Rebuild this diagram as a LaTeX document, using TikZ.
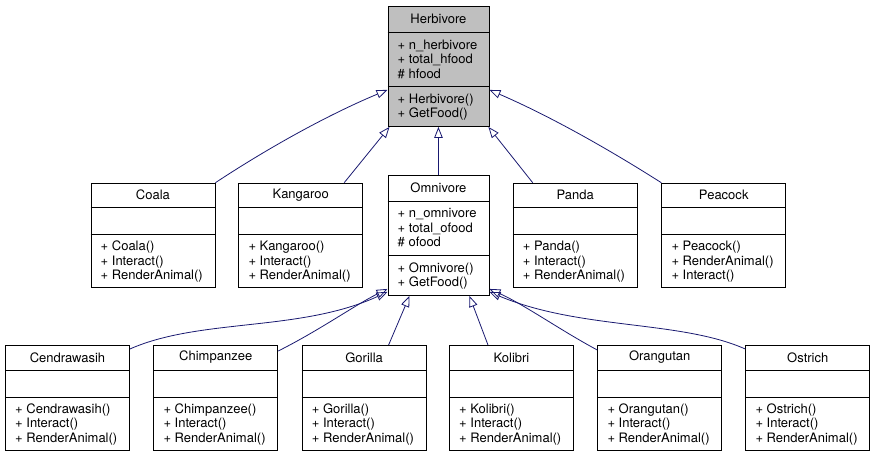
\documentclass[tikz,border=0pt]{standalone}
\usepackage{fontspec}
\setmainfont{TeX Gyre Heros}
\usetikzlibrary{positioning,arrows.meta,calc}
\definecolor{edgeblue}{HTML}{191970}
\definecolor{basegray}{HTML}{BFBFBF}
\tikzset{
  classbox/.style={draw=black, line width=0.9pt, fill=white, inner sep=0pt, anchor=north west},
  sepline/.style={draw=black, line width=0.9pt},
  titletext/.style={inner sep=0pt, font=\fontsize{13}{14.5}\selectfont},
  membertext/.style={inner sep=0pt, anchor=west, align=left, font=\fontsize{13}{14.5}\selectfont},
  inherit/.style={draw=edgeblue, line width=0.8pt, -{Triangle[open, length=11pt, width=8.5pt]}}
}
% leaf class: name, x, y, title, operations
\newcommand{\leafclass}[5]{%
  \node[classbox, minimum width=124pt, minimum height=104.5pt] (#1) at (#2,#3) {};
  \draw[sepline] ([yshift=-25pt]#1.north west) -- ([yshift=-25pt]#1.north east);
  \draw[sepline] ([yshift=-52pt]#1.north west) -- ([yshift=-52pt]#1.north east);
  \node[titletext] (#1-title) at ([yshift=-12.5pt]#1.north) {#4};
  \node[membertext] (#1-ops) at ([xshift=10pt,yshift=26.25pt]#1.south west) {#5};
}
% base class: name, x, y, fill, title, attributes, operations
\newcommand{\baseclass}[7]{%
  \node[classbox, fill=#4, minimum width=101pt, minimum height=120pt] (#1) at (#2,#3) {};
  \draw[sepline] ([yshift=-26pt]#1.north west) -- ([yshift=-26pt]#1.north east);
  \draw[sepline] ([yshift=-80pt]#1.north west) -- ([yshift=-80pt]#1.north east);
  \node[titletext] (#1-title) at ([yshift=-13pt]#1.north) {#5};
  \node[membertext] (#1-attrs) at ([xshift=10pt,yshift=-53pt]#1.north west) {#6};
  \node[membertext] (#1-ops) at ([xshift=10pt,yshift=20pt]#1.south west) {#7};
}
\begin{document}
\begin{tikzpicture}[x=1pt, y=-1pt]
  \useasboundingbox (0,0) rectangle (875,456);
  % base classes
  \baseclass{herbivore}{387.5}{6}{basegray}{Herbivore}%
    {+ n\_herbivore\\+ total\_hfood\\\# hfood}{+ Herbivore()\\+ GetFood()}
  \baseclass{omnivore}{387.5}{175}{white}{Omnivore}%
    {+ n\_omnivore\\+ total\_ofood\\\# ofood}{+ Omnivore()\\+ GetFood()}
  % middle row
  \leafclass{coala}{90.5}{182.7}{Coala}{+ Coala()\\+ Interact()\\+ RenderAnimal()}
  \leafclass{kangaroo}{238.3}{182.7}{Kangaroo}{+ Kangaroo()\\+ Interact()\\+ RenderAnimal()}
  \leafclass{panda}{512.7}{182.7}{Panda}{+ Panda()\\+ Interact()\\+ RenderAnimal()}
  \leafclass{peacock}{661.3}{182.7}{Peacock}{+ Peacock()\\+ RenderAnimal()\\+ Interact()}
  % bottom row
  \leafclass{cendrawasih}{5}{345}{Cendrawasih}{+ Cendrawasih()\\+ Interact()\\+ RenderAnimal()}
  \leafclass{chimpanzee}{153.3}{345}{Chimpanzee}{+ Chimpanzee()\\+ Interact()\\+ RenderAnimal()}
  \leafclass{gorilla}{301.7}{345}{Gorilla}{+ Gorilla()\\+ Interact()\\+ RenderAnimal()}
  \leafclass{kolibri}{449}{345}{Kolibri}{+ Kolibri()\\+ Interact()\\+ RenderAnimal()}
  \leafclass{orangutan}{597.3}{345}{Orangutan}{+ Orangutan()\\+ Interact()\\+ RenderAnimal()}
  \leafclass{ostrich}{745.3}{345}{Ostrich}{+ Ostrich()\\+ Interact()\\+ RenderAnimal()}
  %
  % inheritance to Herbivore
  \draw[inherit] (coala.north east) .. controls (265,150) and (325,116) .. ([yshift=37pt]herbivore.south west);
  \draw[inherit] ([xshift=-19pt]kangaroo.north east) -- ([xshift=2pt]herbivore.south west);
  \draw[inherit] (omnivore.north) -- (herbivore.south);
  \draw[inherit] ([xshift=20pt]panda.north west) -- ([xshift=-1pt]herbivore.south east);
  \draw[inherit] (peacock.north west) .. controls (610,150) and (550,116) .. ([yshift=37pt]herbivore.south east);
  % inheritance to Omnivore
  \draw[inherit] ([yshift=-4pt]cendrawasih.north east) .. controls (200,318) and (300,332) .. ([yshift=4pt]omnivore.south west);
  \draw[inherit] ([yshift=-6pt]chimpanzee.north east) .. controls (320,330) and (355,305) .. ([yshift=7pt]omnivore.south west);
  \draw[inherit] ([xshift=-38pt]gorilla.north east) -- ([xshift=22pt]omnivore.south west);
  \draw[inherit] ([xshift=39pt]kolibri.north west) -- ([xshift=-20pt]omnivore.south east);
  \draw[inherit] ([yshift=-5pt]orangutan.north west) .. controls (560,330) and (525,305) .. ([yshift=7pt]omnivore.south east);
  \draw[inherit] ([yshift=-4pt]ostrich.north west) .. controls (680,320) and (580,330) .. ([yshift=4pt]omnivore.south east);
\end{tikzpicture}
\end{document}
